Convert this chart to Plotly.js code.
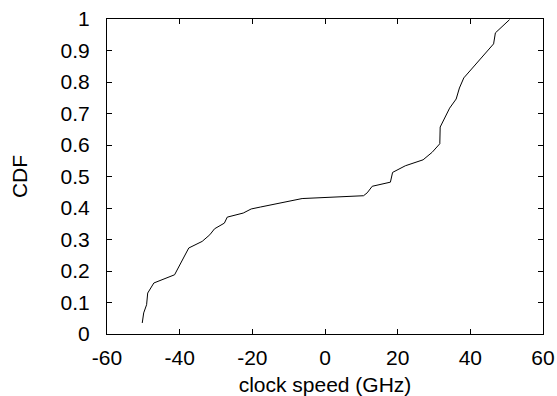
<!DOCTYPE html>
<html>
<head>
<meta charset="utf-8">
<script src="https://cdn.plot.ly/plotly-3.0.1.min.js"></script>
<style>html,body{margin:0;padding:0;background:#fff}#chart{width:557px;height:396px}</style>
</head>
<body>
<div id="chart"></div>
<script>
const clockSpeed = [-50.3, -49.9, -49.1, -48.8, -47.1, -41.4, -37.5, -33.8, -31.7, -30.4, -27.7, -26.9, -22.5, -20.3, -17.8, -10.4, -6.3, 10.6, 11.6, 13.0, 18.0, 18.6, 22.1, 27.0, 29.5, 31.6, 31.7, 34.3, 36.1, 37.0, 38.2, 46.4, 46.9, 50.8];
const cdf = [0.035, 0.067, 0.093, 0.13, 0.162, 0.188, 0.273, 0.294, 0.315, 0.334, 0.352, 0.371, 0.384, 0.397, 0.403, 0.421, 0.43, 0.439, 0.448, 0.469, 0.482, 0.513, 0.534, 0.553, 0.577, 0.604, 0.657, 0.717, 0.746, 0.781, 0.813, 0.921, 0.956, 0.998];
const xTicks = [-60, -40, -20, 0, 20, 40, 60];
const xTickText = ['-60', '-40', '-20', '0', '20', '40', '60'];
const yTicks = [0, 0.1, 0.2, 0.3, 0.4, 0.5, 0.6, 0.7, 0.8, 0.9, 1];
const yTickText = ['0', '0.1', '0.2', '0.3', '0.4', '0.5', '0.6', '0.7', '0.8', '0.9', '1'];

const font = {family: 'Liberation Sans, Arial, sans-serif', size: 21, color: '#000'};
Plotly.newPlot('chart', [{
  x: clockSpeed, y: cdf, type: 'scatter', mode: 'lines',
  line: {color: '#000', width: 1}, hoverinfo: 'none'
}], {
  width: 557, height: 396,
  margin: {l: 106.5, r: 14, t: 19.3, b: 61.7},
  paper_bgcolor: '#fff', plot_bgcolor: '#fff',
  font: font, showlegend: false,
  xaxis: {
    range: [-60, 60], tickmode: 'array', tickvals: xTicks, ticktext: xTickText,
    ticks: 'inside', ticklen: 5, tickcolor: '#000', tickwidth: 1,
    showline: true, linecolor: '#000', linewidth: 1, mirror: 'ticks',
    showgrid: false, zeroline: false, ticklabelstandoff: 5,
    title: {text: 'clock speed (GHz)', font: font, standoff: 9}
  },
  yaxis: {
    range: [0, 1], tickmode: 'array', tickvals: yTicks, ticktext: yTickText,
    ticks: 'inside', ticklen: 5, tickcolor: '#000', tickwidth: 1,
    showline: true, linecolor: '#000', linewidth: 1, mirror: 'ticks',
    showgrid: false, zeroline: false, ticklabelstandoff: 12,
    title: {text: 'CDF', font: font, standoff: 27}
  }
}, {staticPlot: true});
</script>
</body>
</html>
